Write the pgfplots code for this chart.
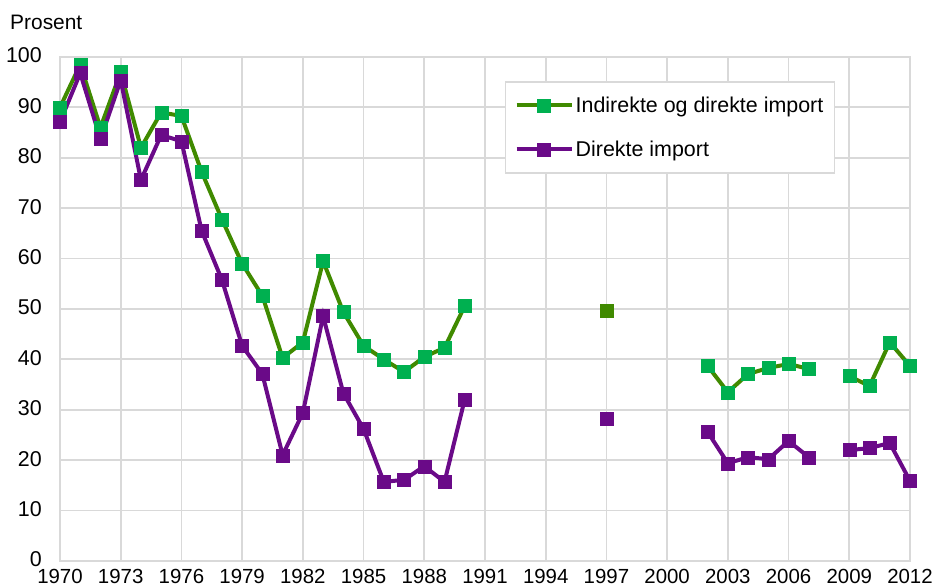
\documentclass[border=0pt]{standalone}
\usepackage{pgfplots}
\pgfplotsset{compat=1.18}
\usepackage{fontspec}
\setmainfont{Liberation Sans}
\definecolor{gline}{HTML}{408A00}
\definecolor{gmark}{HTML}{00B050}
\definecolor{pline}{HTML}{6A0A88}
\definecolor{gridc}{HTML}{D9D9D9}
\begin{document}
\begin{tikzpicture}
\path[use as bounding box] (-60bp,-26bp) rectangle (876bp,561bp);
\begin{axis}[
  at={(0,0)}, anchor=south west,
  scale only axis, width=850bp, height=504bp,
  xmin=1970, xmax=2012, ymin=0, ymax=100,
  xtick={1970,1973,...,2012}, ytick={0,10,...,100},
  grid=major, major grid style={gridc, line width=1.8bp},
  axis line style={gridc, line width=1.8bp},
  major tick length=0pt,
  /pgf/number format/assume math mode=true,
  xticklabel={\pgfmathprintnumber[1000 sep={}]{\tick}},
  xticklabel style={font=\fontsize{20.5}{24}\selectfont, inner sep=0pt, anchor=north, yshift=-8.5bp},
  yticklabel style={font=\fontsize{21.5}{25}\selectfont, inner sep=0pt, anchor=east, xshift=-18bp, yshift=1.5bp},
  clip=false,
  unbounded coords=jump,
  legend cell align=left,
  legend style={at={(rel axis cs:0.5235,0.952)}, anchor=north west, draw=gridc, line width=1.5bp,
    font=\fontsize{21.5}{25}\selectfont, row sep=23bp, inner xsep=9bp, inner ysep=13bp},
  legend image code/.code={\draw[mark repeat=2,mark phase=2] plot coordinates {(0bp,0bp) (27bp,0bp) (55bp,0bp)};},
]
\addplot[gline, line width=4bp, mark=square*, mark size=6.5bp, mark options={solid, fill=gmark, draw=gmark, line width=0.3bp}]
coordinates {
(1970,90) (1971,98.5) (1972,86) (1973,97) (1974,82) (1975,89) (1976,88.3) (1977,77.2)
(1978,67.8) (1979,59) (1980,52.6) (1981,40.3) (1982,43.4) (1983,59.5) (1984,49.4)
(1985,42.7) (1986,40) (1987,37.5) (1988,40.5) (1989,42.3) (1990,50.6)
(1991,nan)
(2002,38.7) (2003,33.5) (2004,37.1) (2005,38.3) (2006,39.1) (2007,38.1)
(2008,nan)
(2009,36.7) (2010,34.7) (2011,43.4) (2012,38.7)
};
\addlegendentry{Indirekte og direkte import}
\addplot[forget plot, only marks, mark=square*, mark size=6.5bp, mark options={fill=gline, draw=gline, line width=0.3bp}]
coordinates {(1997,49.6)};
\addplot[pline, line width=4bp, mark=square*, mark size=6.5bp, mark options={solid, fill=pline, draw=pline, line width=0.3bp}]
coordinates {
(1970,87.1) (1971,96.8) (1972,83.7) (1973,95.4) (1974,75.6) (1975,84.5) (1976,83.3) (1977,65.5)
(1978,55.8) (1979,42.7) (1980,37.1) (1981,21) (1982,29.4) (1983,48.6) (1984,33.3)
(1985,26.2) (1986,15.7) (1987,16.1) (1988,18.8) (1989,15.7) (1990,32.1)
(1991,nan)
(1997,28.2)
(1998,nan)
(2002,25.6) (2003,19.4) (2004,20.6) (2005,20.2) (2006,23.8) (2007,20.6)
(2008,nan)
(2009,22) (2010,22.4) (2011,23.4) (2012,15.9)
};
\addlegendentry{Direkte import}
\node[anchor=base west, inner sep=0pt, font=\fontsize{21}{24}\selectfont] at ([xshift=-50bp,yshift=27bp]rel axis cs:0,1) {Prosent};
\end{axis}
\end{tikzpicture}
\end{document}
